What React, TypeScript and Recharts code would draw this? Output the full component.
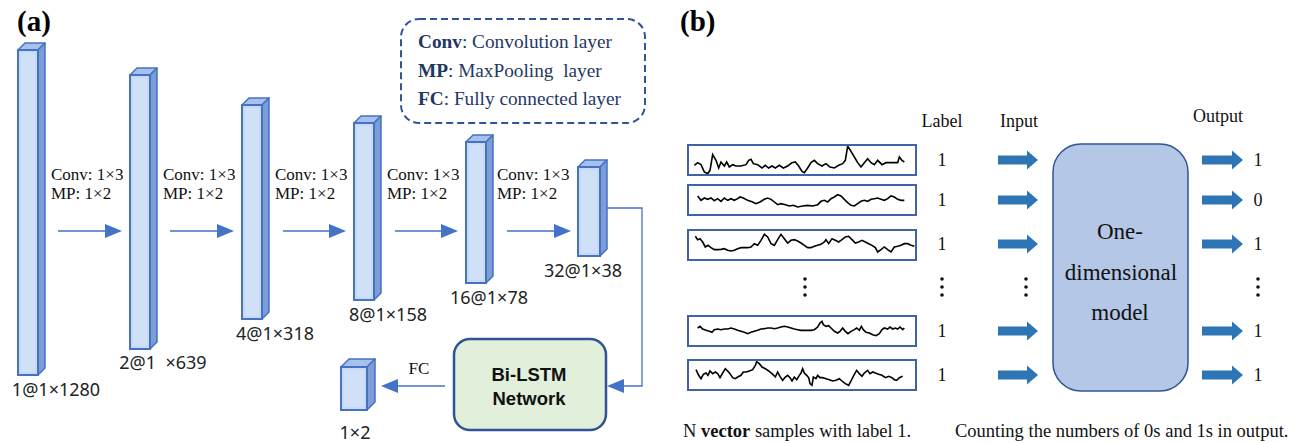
import React from 'react'
import {
  ComposedChart, Scatter, XAxis, YAxis, Customized, LineChart, Line,
} from 'recharts'

// feature maps of the CNN branch (channels @ 1 x length)
const layerNames = ['1@1×1280', '2@1  ×639', '4@1×318', '8@1×158', '16@1×78', '32@1×38']
const layerLengths = [1280, 639, 318, 158, 78, 38]
const convOps = ['Conv: 1×3', 'Conv: 1×3', 'Conv: 1×3', 'Conv: 1×3', 'Conv: 1×3']
const poolOps = ['MP: 1×2', 'MP: 1×2', 'MP: 1×2', 'MP: 1×2', 'MP: 1×2']
const legendKeys = ['Conv', 'MP', 'FC']
const legendTexts = [': Convolution layer', ': MaxPooling  layer', ': Fully connected layer']

// panel (b)
const sampleLabels = ['1', '1', '1', '1', '1']
const modelOutputs = ['1', '0', '1', '1', '1']

// sample signals, [t, value]
const wave1 = [
  [25, 30], [35, 38], [45, 32], [55, 10], [65, 5], [72, 15], [80, 62], [90, 45], [98, 22], [105, 40],
  [115, 28], [122, 40], [130, 25], [140, 32], [150, 28], [165, 28], [180, 32], [188, 45], [195, 48], [202, 35],
  [215, 32], [228, 22], [238, 30], [248, 22], [258, 28], [268, 22], [280, 30], [292, 22], [305, 28], [318, 38],
  [328, 40], [338, 28], [348, 12], [355, 8], [365, 22], [375, 38], [385, 45], [395, 35], [408, 28], [420, 35],
  [432, 25], [445, 22], [458, 30], [470, 35], [478, 45], [485, 88], [495, 72], [505, 55], [515, 38], [525, 25],
  [535, 38], [545, 50], [555, 38], [565, 32], [575, 45], [588, 32], [600, 38], [612, 38], [625, 38], [635, 38],
  [640, 55], [648, 45], [655, 40],
]
const wave2 = [
  [35, 58], [45, 45], [55, 52], [65, 48], [75, 52], [85, 44], [95, 50], [105, 42], [115, 52], [125, 45],
  [135, 50], [145, 45], [155, 50], [162, 55], [172, 52], [185, 45], [200, 40], [210, 35], [222, 40], [235, 48],
  [245, 52], [255, 48], [265, 40], [275, 32], [285, 35], [298, 32], [310, 28], [322, 30], [335, 25], [350, 28],
  [365, 30], [380, 28], [395, 32], [405, 42], [415, 45], [425, 40], [435, 50], [445, 55], [455, 62], [465, 58],
  [475, 48], [485, 38], [495, 30], [505, 28], [515, 35], [525, 42], [535, 45], [545, 42], [555, 48], [565, 50],
  [575, 52], [585, 48], [595, 45], [605, 50], [615, 58], [625, 55], [635, 48], [645, 45], [655, 45],
]
const wave3 = [
  [28, 72], [35, 62], [42, 65], [50, 55], [58, 40], [66, 45], [75, 38], [85, 32], [95, 32], [105, 33],
  [115, 35], [125, 30], [135, 28], [145, 30], [155, 35], [165, 38], [175, 38], [185, 38], [195, 40], [205, 50],
  [215, 45], [225, 60], [235, 78], [245, 70], [255, 50], [265, 45], [275, 62], [285, 78], [295, 65], [305, 52],
  [315, 60], [325, 62], [335, 58], [345, 52], [355, 45], [365, 38], [375, 38], [385, 42], [395, 45], [405, 48],
  [415, 55], [420, 62], [428, 50], [438, 65], [448, 60], [458, 55], [468, 62], [478, 70], [488, 72], [498, 62],
  [508, 52], [518, 55], [528, 60], [538, 55], [548, 50], [558, 45], [568, 38], [575, 25], [585, 32], [595, 40],
  [605, 32], [615, 25], [625, 40], [635, 42], [645, 45], [655, 50], [665, 50], [675, 45], [685, 42],
]
const wave4 = [
  [35, 55], [42, 60], [50, 52], [60, 48], [70, 45], [78, 42], [85, 50], [95, 52], [105, 50], [115, 52],
  [125, 52], [135, 55], [145, 52], [155, 48], [165, 45], [175, 42], [185, 38], [195, 42], [205, 45], [215, 48],
  [225, 52], [235, 53], [245, 55], [255, 55], [265, 53], [275, 55], [285, 58], [295, 60], [305, 58], [315, 55],
  [325, 52], [335, 50], [345, 48], [355, 48], [365, 48], [375, 48], [385, 50], [395, 58], [402, 70], [408, 75],
  [412, 65], [420, 60], [428, 62], [435, 55], [445, 45], [455, 40], [462, 45], [470, 55], [478, 45], [486, 38],
  [495, 45], [505, 50], [512, 55], [520, 48], [526, 60], [532, 50], [540, 42], [550, 40], [560, 35], [570, 32],
  [580, 38], [588, 50], [595, 55], [605, 52], [612, 58], [620, 52], [628, 55], [635, 52], [642, 58], [650, 50],
  [655, 55],
]
const wave5 = [
  [30, 62], [38, 45], [45, 35], [52, 48], [60, 52], [66, 45], [72, 58], [80, 50], [88, 55], [95, 50],
  [102, 38], [110, 52], [118, 65], [125, 58], [132, 50], [140, 38], [148, 35], [155, 40], [165, 45], [172, 55],
  [180, 55], [190, 58], [200, 62], [208, 75], [212, 86], [220, 80], [228, 70], [238, 65], [248, 58], [258, 50],
  [268, 40], [275, 55], [282, 42], [290, 30], [298, 40], [305, 45], [312, 38], [318, 28], [325, 40], [332, 32],
  [340, 45], [345, 52], [350, 65], [355, 52], [362, 45], [368, 38], [372, 20], [378, 15], [382, 40], [390, 35],
  [395, 45], [402, 38], [410, 38], [420, 35], [430, 32], [440, 28], [450, 30], [460, 35], [468, 28], [478, 20],
  [488, 15], [495, 28], [505, 48], [512, 60], [520, 50], [528, 42], [535, 52], [545, 60], [552, 50], [560, 55],
  [568, 52], [578, 48], [588, 45], [598, 38], [608, 42], [618, 38], [625, 32], [632, 30], [640, 38], [650, 42],
]
const waves = [wave1, wave2, wave3, wave4, wave5]

const W = 1314
const H = 443
const SERIF = '"Liberation Serif", "Times New Roman", serif'
const SANS = '"Noto Sans", "DejaVu Sans", sans-serif'
const ARIAL = '"Liberation Sans", Arial, sans-serif'
const BLUE = '#4472C4'
const NAVY = '#2F5597'
const serif = { fontFamily: SERIF }

// layout of the layer prisms (front face)
const layerTops = [50, 75, 105, 123, 142, 167]
const layerBottoms = [375, 349, 319, 300, 283, 256]
const layerLabelX = [56, 163, 275, 388, 489, 583]
const layerLabelY = [396, 369, 340, 321, 304, 277]

const layerData = layerNames.map((name, i) => ({
  name,
  length: layerLengths[i],
  x: 18 + i * 112,
  y: layerTops[i],
  h: layerBottoms[i] - layerTops[i],
  w: i === 5 ? 22 : 20,
  lx: layerLabelX[i],
  ly: layerLabelY[i],
}))
const outputData = [{ name: '1×2', x: 341, y: 367, h: 43, w: 26 }]

const rowY = [160, 200, 244, 331, 375]
const boxTops = [144, 184, 229, 315, 359]
const labelData = sampleLabels.map((v, i) => ({ v, x: 942, y: rowY[i] }))
const outData = modelOutputs.map((v, i) => ({ v, x: 1258, y: rowY[i] }))

function prism(x: number, y: number, w: number, h: number, d: number) {
  return (
    <g>
      <polygon points={`${x},${y} ${x + d},${y - d} ${x + w + d},${y - d} ${x + w},${y}`}
        fill="#A7C1EC" stroke={BLUE} strokeWidth={1.5} strokeLinejoin="round" />
      <polygon points={`${x + w},${y} ${x + w + d},${y - d} ${x + w + d},${y + h - d} ${x + w},${y + h}`}
        fill="#7D9DD8" stroke={BLUE} strokeWidth={1.5} strokeLinejoin="round" />
      <rect x={x} y={y} width={w} height={h} fill="#C6DAF6" stroke={BLUE} strokeWidth={2} />
      <rect x={x + 3} y={y + 3} width={w - 6} height={h - 6} fill="#CFE0F8" />
    </g>
  )
}

const LayerShape = (p: any) => {
  const d = p.payload
  return (
    <g>
      {prism(p.cx, p.cy, d.w, d.h, 7)}
      {d.lx != null && (
        <text x={d.lx} y={d.ly} textAnchor="middle" fontSize={18} fill="#222"
          xmlSpace="preserve" style={{ whiteSpace: 'pre', fontFamily: SANS }}>{d.name}</text>
      )}
    </g>
  )
}

const OutShape = (p: any) => (
  <g>
    {prism(p.cx, p.cy, p.payload.w, p.payload.h, 8)}
    <text x={p.cx + 14} y={p.cy + 72} textAnchor="middle" fontSize={18} fill="#222"
      style={{ fontFamily: SANS }}>
      {p.payload.name}
    </text>
  </g>
)

const ValueShape = (p: any) => (
  <text x={p.cx} y={p.cy + 6} textAnchor="middle" fontSize={18} fill="#111" style={serif}>
    {p.payload.v}
  </text>
)

function thinArrow(x0: number, x1: number, y: number, key: string) {
  const dir = x1 > x0 ? 1 : -1
  const hl = 17
  return (
    <g key={key}>
      <line x1={x0} y1={y} x2={x1 - dir * hl} y2={y} stroke={BLUE} strokeWidth={1.5} />
      <polygon points={`${x1},${y} ${x1 - dir * hl},${y - 7} ${x1 - dir * hl},${y + 7}`} fill={BLUE} />
    </g>
  )
}

function blockArrow(x0: number, x1: number, y: number, key: string) {
  const hx = x1 - 11
  return (
    <polygon key={key} fill="#2E75B6"
      points={`${x0},${y - 4.5} ${hx},${y - 4.5} ${hx},${y - 9.5} ${x1},${y} ${hx},${y + 9.5} ${hx},${y + 4.5} ${x0},${y + 4.5}`} />
  )
}

function vdots(x: number, key: string) {
  return (
    <g key={key} fill="#111">
      <circle cx={x} cy={279} r={1.8} />
      <circle cx={x} cy={287} r={1.8} />
      <circle cx={x} cy={295} r={1.8} />
    </g>
  )
}

const Decorations = () => {
  const arrowStarts = [58, 170, 283, 395, 507]
  const arrowEnds = [122, 234, 346, 458, 571]
  const opX = [51, 163, 275, 387, 497]
  return (
    <g>
      <text x={17} y={31} fontWeight="bold" fontSize={29} fill="#000" style={serif}>(a)</text>
      <text x={680} y={31} fontWeight="bold" fontSize={29} fill="#000" style={serif}>(b)</text>

      {convOps.map((c, i) => (
        <g key={'op' + i} fontSize={17} fill="#111">
          <text x={opX[i]} y={180} style={serif}>{c}</text>
          <text x={opX[i]} y={199} style={serif}>{poolOps[i]}</text>
        </g>
      ))}
      {arrowStarts.map((s, i) => thinArrow(s, arrowEnds[i], 231, 'a' + i))}

      {/* legend */}
      <rect x={401} y={19} width={244} height={104} rx={18} fill="none" stroke={NAVY}
        strokeWidth={2} strokeDasharray="7 4" />
      {legendKeys.map((k, i) => (
        <text key={k} x={418} y={48 + i * 28.5} fontSize={19.3} fill="#1F3864"
          xmlSpace="preserve" style={{ whiteSpace: 'pre', fontFamily: SERIF }}>
          <tspan fontWeight="bold">{k}</tspan>{legendTexts[i]}
        </text>
      ))}

      {/* to Bi-LSTM */}
      <polyline points="607,208 642,208 642,386 624,386" fill="none" stroke={BLUE} strokeWidth={1.3} />
      <polygon points="607,386 624,379 624,393" fill={BLUE} />
      <rect x={454} y={339} width={152} height={91} rx={16} fill="#E2EFDA" stroke={NAVY} strokeWidth={2.5} />
      <text x={529} y={381} textAnchor="middle" fontWeight="bold" fontSize={18.5} fill="#111"
        style={{ fontFamily: ARIAL }}>Bi-LSTM</text>
      <text x={529} y={405} textAnchor="middle" fontWeight="bold" fontSize={18.5} fill="#111"
        style={{ fontFamily: ARIAL }}>Network</text>
      {thinArrow(445, 381, 386, 'fc')}
      <text x={419} y={374} textAnchor="middle" fontSize={17} fill="#111" style={serif}>FC</text>

      {/* panel b */}
      <text x={942} y={127} textAnchor="middle" fontSize={18} fill="#111" style={serif}>Label</text>
      <text x={1019} y={127} textAnchor="middle" fontSize={18} fill="#111" style={serif}>Input</text>
      <text x={1218} y={122} textAnchor="middle" fontSize={18} fill="#111" style={serif}>Output</text>
      {rowY.map((y, i) => blockArrow(998, 1038, y, 'in' + i))}
      {rowY.map((y, i) => blockArrow(1202, 1243, y, 'out' + i))}
      <rect x={1053} y={144} width={135} height={247} rx={28} fill="#B4C7E7" stroke={NAVY} strokeWidth={1.5} />
      <text x={1120} y={239} textAnchor="middle" fontSize={23} fill="#111" style={serif}>One-</text>
      <text x={1121} y={280} textAnchor="middle" fontSize={23} fill="#111" style={serif}>dimensional</text>
      <text x={1120} y={320} textAnchor="middle" fontSize={23} fill="#111" style={serif}>model</text>
      {vdots(805, 'd1')}
      {vdots(942, 'd2')}
      {vdots(1026, 'd3')}
      {vdots(1258, 'd4')}
      <text x={683} y={437} fontSize={18.5} fill="#111" style={serif}>
        N <tspan fontWeight="bold">vector</tspan> samples with label 1.
      </text>
      <text x={955} y={437} fontSize={18.5} fill="#111" style={serif}>
        Counting the numbers of 0s and 1s in output.
      </text>
    </g>
  )
}

function Signal({ data, top }: { data: number[][]; top: number }) {
  const rows = data.map(([t, v]) => ({ t, v }))
  return (
    <div style={{ position: 'absolute', left: 687, top, width: 230, height: 32 }}>
      <LineChart width={230} height={32} data={rows} margin={{ top: 0, right: 0, bottom: 0, left: 0 }}>
        <XAxis type="number" dataKey="t" domain={[3, 693]} hide />
        <YAxis type="number" domain={[-2, 94]} hide />
        <Line dataKey="v" stroke="#000" strokeWidth={1.6} dot={false} type="linear" isAnimationActive={false} />
      </LineChart>
      <div style={{ position: 'absolute', inset: 0, border: '2px solid #3F63A6', boxSizing: 'border-box' }} />
    </div>
  )
}

export default function App() {
  return (
    <div style={{ position: 'absolute', left: 0, top: 0, width: W, height: H, background: '#fff', overflow: 'hidden' }}>
      <ComposedChart width={W} height={H} margin={{ top: 0, right: 0, bottom: 0, left: 0 }}>
        <XAxis type="number" dataKey="x" domain={[0, W]} hide allowDataOverflow />
        <YAxis type="number" dataKey="y" domain={[0, H]} reversed hide allowDataOverflow />
        <Customized component={<Decorations />} />
        <Scatter data={layerData} shape={LayerShape} isAnimationActive={false} />
        <Scatter data={outputData} shape={OutShape} isAnimationActive={false} />
        <Scatter data={labelData} shape={ValueShape} isAnimationActive={false} />
        <Scatter data={outData} shape={ValueShape} isAnimationActive={false} />
      </ComposedChart>
      {waves.map((w, i) => <Signal key={i} data={w} top={boxTops[i]} />)}
    </div>
  )
}
